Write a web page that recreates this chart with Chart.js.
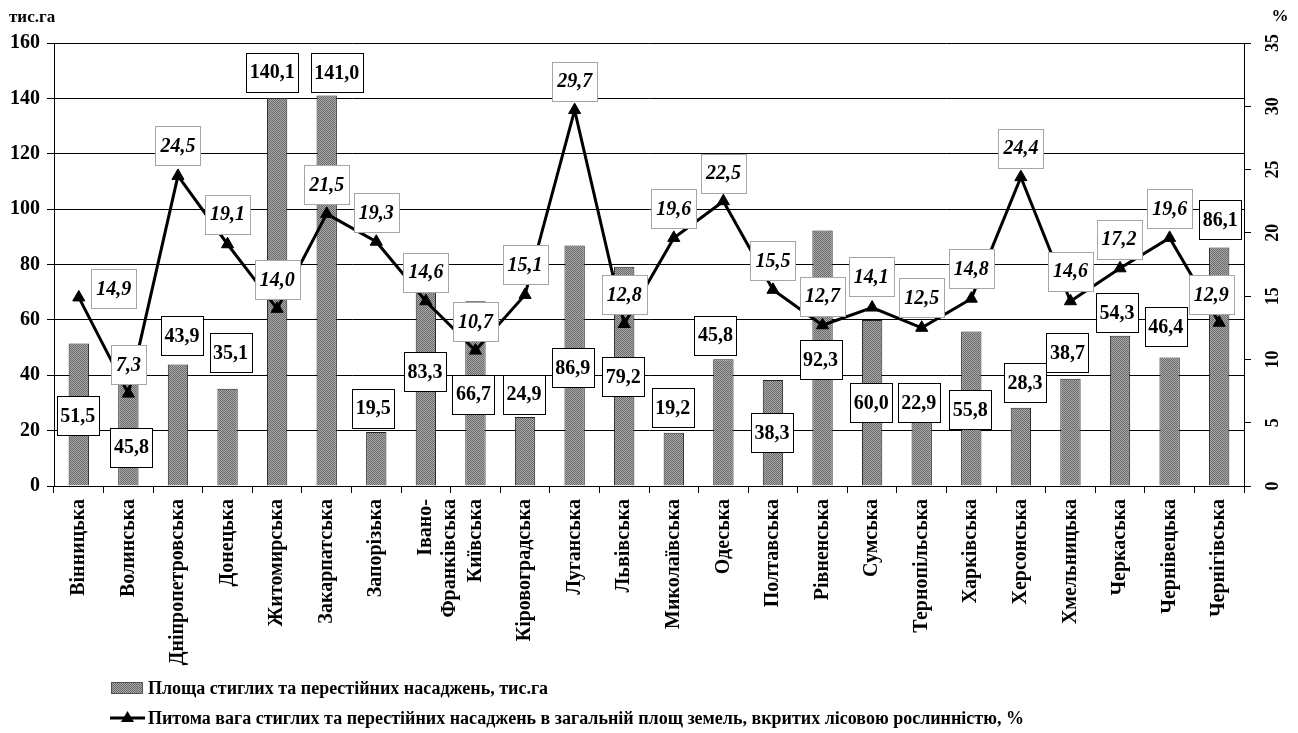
<!DOCTYPE html>
<html>
<head>
<meta charset="utf-8">
<script src="https://cdn.jsdelivr.net/npm/chart.js@4.4.0/dist/chart.umd.min.js"></script>
<style>
  body { margin: 0; background: #fff; }
  #wrap { width: 1298px; height: 733px; }
</style>
</head>
<body>
<div id="wrap"><canvas id="myChart" width="1298" height="733"></canvas></div>
<script>
const categories = ['Вінницька', 'Волинська', 'Дніпропетровська', 'Донецька', 'Житомирська', 'Закарпатська',
  'Запорізька', ['Івано-', 'Франківська'], 'Київська', 'Кіровоградська', 'Луганська', 'Львівська',
  'Миколаївська', 'Одеська', 'Полтавська', 'Рівненська', 'Сумська', 'Тернопільська', 'Харківська',
  'Херсонська', 'Хмельницька', 'Черкаська', 'Чернівецька', 'Чернігівська'];
const areaValues = [51.5, 45.8, 43.9, 35.1, 140.1, 141.0, 19.5, 83.3, 66.7, 24.9, 86.9, 79.2,
  19.2, 45.8, 38.3, 92.3, 60.0, 22.9, 55.8, 28.3, 38.7, 54.3, 46.4, 86.1];
const shareValues = [14.9, 7.3, 24.5, 19.1, 14.0, 21.5, 19.3, 14.6, 10.7, 15.1, 29.7, 12.8,
  19.6, 22.5, 15.5, 12.7, 14.1, 12.5, 14.8, 24.4, 14.6, 17.2, 19.6, 12.9];
const seriesNames = ['Площа стиглих та перестійних насаджень, тис.га',
  'Питома вага стиглих та перестійних насаджень в загальній площ земель, вкритих лісовою рослинністю, %'];
const leftUnit = 'тис.га';
const rightUnit = '%';

// where each value box sits relative to its bar top / point (pixels)
const barLabelDx = [-1, 3, 4, 3, -5, 10, -3, -1, -2, -1, -2, -1, -1, -8, -1, -2, -1, -3, -1, 4, -3, -3, -4, 1];
const barLabelDy = [72, 88, -29, -36, -26, -23, -24, 116, 93, -23, 122, 110, -25, -24, 53, 129, 83, -20, 78, -25, -26, -23, -31, -28];
const lineLabelDx = [35, 0, 0, 0, 0, 0, 0, 0, 0, 0, 0, 0, 0, 0, 0, 0, -1, 0, 0, 0, 0, -1, 0, -8];
const lineLabelDy = [-9, -29, -30, -30, -29, -29, -29, -29, -29, -30, -29, -29, -29, -28, -29, -29, -31, -30, -30, -29, -30, -29, -29, -28];

const serif = "'Liberation Serif', 'Times New Roman', serif";

function makePattern() {
  const c = document.createElement('canvas');
  c.width = 2; c.height = 2;
  const g = c.getContext('2d');
  g.fillStyle = '#a9a9a9'; g.fillRect(0, 0, 2, 2);
  g.fillStyle = '#6a6a6a'; g.fillRect(0, 0, 1, 1); g.fillRect(1, 1, 1, 1);
  return g.createPattern(c, 'repeat');
}
const ctx = document.getElementById('myChart').getContext('2d');
const barFill = makePattern();

const fmt = v => v.toFixed(1).replace('.', ',');

function drawBox(c, text, cx, cy, font, border, padX) {
  c.font = font;
  const w = Math.round(c.measureText(text).width + 2 * padX);
  const h = 39;
  const x = Math.round(cx - w / 2), y = Math.round(cy - h / 2);
  c.fillStyle = '#fff';
  c.fillRect(x, y, w, h);
  c.strokeStyle = border;
  c.lineWidth = 1;
  c.strokeRect(x + 0.5, y + 0.5, w, h);
  c.fillStyle = '#000';
  c.textAlign = 'center';
  c.textBaseline = 'middle';
  c.fillText(text, cx, cy + 1);
}

const labelPlugin = {
  id: 'valueBoxes',
  afterDatasetsDraw(chart) {
    const c = chart.ctx;
    c.save();
    const lineMeta = chart.getDatasetMeta(1);
    lineMeta.data.forEach((pt, i) => {
      drawBox(c, fmt(shareValues[i]), pt.x + lineLabelDx[i], pt.y + lineLabelDy[i],
        'italic bold 20px ' + serif, '#a6a6a6', 5);
    });
    const barMeta = chart.getDatasetMeta(0);
    barMeta.data.forEach((bar, i) => {
      drawBox(c, fmt(areaValues[i]), bar.x + barLabelDx[i], bar.y + barLabelDy[i],
        'bold 20px ' + serif, '#000', 3.5);
    });
    c.restore();
  },
  afterDraw(chart) {
    const c = chart.ctx;
    const yr = chart.scales.yr;
    c.save();
    c.fillStyle = '#000';
    // right axis tick labels, rotated
    c.font = 'bold 18px ' + serif;
    c.textAlign = 'center';
    c.textBaseline = 'middle';
    yr.ticks.forEach(t => {
      const y = yr.getPixelForValue(t.value);
      c.save();
      c.translate(1273, y);
      c.rotate(-Math.PI / 2);
      c.fillText(String(t.value), 0, 0);
      c.restore();
    });
    // axis units
    c.font = 'bold 17px ' + serif;
    c.textAlign = 'left';
    c.fillText(leftUnit, 9, 18);
    c.textAlign = 'center';
    c.fillText(rightUnit, 1280, 17);
    // legend
    c.fillStyle = barFill;
    c.fillRect(111, 682, 32, 12);
    c.strokeStyle = '#555';
    c.lineWidth = 1;
    c.strokeRect(111.5, 682.5, 31, 11);
    c.strokeStyle = '#000';
    c.lineWidth = 3;
    c.beginPath();
    c.moveTo(110, 718);
    c.lineTo(145, 718);
    c.stroke();
    c.fillStyle = '#000';
    c.beginPath();
    c.moveTo(127.5, 711);
    c.lineTo(134, 722);
    c.lineTo(121, 722);
    c.closePath();
    c.fill();
    c.font = 'bold 18px ' + serif;
    c.textAlign = 'left';
    c.textBaseline = 'middle';
    c.fillText(seriesNames[0], 148, 689);
    c.fillText(seriesNames[1], 148, 719);
    c.restore();
  }
};

const chart = new Chart(ctx, {
  data: {
    labels: categories,
    datasets: [{
      type: 'bar',
      label: seriesNames[0],
      data: areaValues,
      yAxisID: 'y',
      backgroundColor: barFill,
      borderColor: '#222',
      borderWidth: 1,
      barPercentage: 0.41,
      categoryPercentage: 1,
      order: 1
    }, {
      type: 'line',
      label: seriesNames[1],
      data: shareValues,
      yAxisID: 'yr',
      borderColor: '#000',
      borderWidth: 3,
      tension: 0,
      pointStyle: 'triangle',
      pointRadius: 7,
      pointBackgroundColor: '#000',
      pointBorderColor: '#000',
      pointBorderWidth: 1,
      order: 0
    }]
  },
  options: {
    responsive: false,
    animation: false,
    layout: { padding: { top: 43, left: 0, right: 0, bottom: 0 } },
    plugins: { legend: { display: false }, tooltip: { enabled: false } },
    scales: {
      x: {
        afterFit: s => { s.height = 247; },
        grid: { offset: true, drawOnChartArea: false, color: '#000', tickLength: 7 },
        border: { color: '#000' },
        ticks: {
          autoSkip: false, minRotation: 90, maxRotation: 90, padding: 6,
          color: '#000', font: { family: serif, size: 20, weight: 'bold' }
        }
      },
      y: {
        position: 'left',
        min: 0, max: 160,
        afterFit: s => { s.width = 54; },
        grid: { color: '#000', tickLength: 7 },
        border: { color: '#000' },
        ticks: {
          stepSize: 20, padding: 7, color: '#000',
          font: { family: serif, size: 20, weight: 'bold' }
        }
      },
      yr: {
        position: 'right',
        min: 0, max: 35,
        afterFit: s => { s.width = 54; },
        grid: { drawOnChartArea: false, color: '#000', tickLength: 7 },
        border: { color: '#000' },
        ticks: { stepSize: 5, display: false }
      }
    }
  },
  plugins: [labelPlugin]
});
</script>
</body>
</html>
